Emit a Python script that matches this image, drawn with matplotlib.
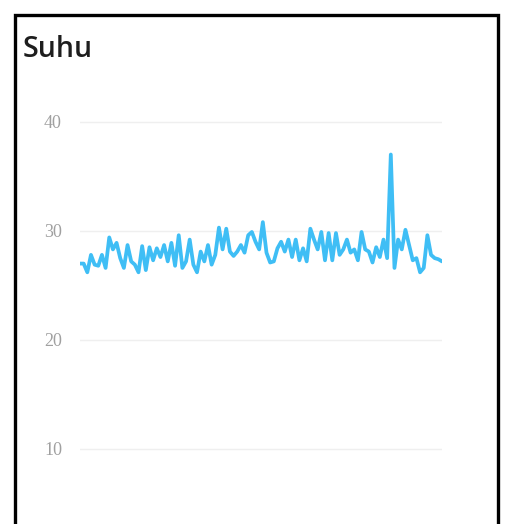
import matplotlib
matplotlib.use("Agg")
import matplotlib.pyplot as plt
from matplotlib.patches import Rectangle

title = "Suhu"
yticks = [10, 20, 30, 40]
suhu = [27.0, 27.0, 26.2, 27.8, 26.9, 26.8, 27.8, 26.6, 29.4, 28.3,
        28.9, 27.5, 26.6, 28.7, 27.2, 26.9, 26.2, 28.6, 26.4, 28.5,
        27.3, 28.4, 27.6, 28.7, 27.2, 28.9, 26.8, 29.6, 26.6, 27.2,
        29.2, 26.9, 26.2, 28.1, 27.2, 28.7, 26.9, 27.8, 30.3, 28.3,
        30.2, 28.1, 27.7, 28.1, 28.7, 28.0, 29.6, 29.9, 29.0, 28.3,
        30.8, 28.0, 27.1, 27.2, 28.4, 29.0, 28.1, 29.2, 27.6, 29.2,
        27.3, 28.4, 27.2, 30.2, 29.2, 28.3, 29.9, 27.3, 29.8, 27.3,
        29.8, 27.8, 28.3, 29.2, 28.0, 28.3, 27.3, 29.9, 28.3, 28.1,
        27.1, 28.5, 27.6, 29.2, 27.5, 37.0, 26.6, 29.2, 28.3, 30.1,
        28.7, 27.3, 27.5, 26.2, 26.6, 29.6, 27.8, 27.5, 27.4, 27.2]

W, H = 512, 524
fig = plt.figure(figsize=(W / 100, H / 100), dpi=100)
fig.patch.set_facecolor("white")

# card border
fig.add_artist(Rectangle((15 / W, -0.1), (498 - 15) / W, (H - 15) / H + 0.1,
                         transform=fig.transFigure, fill=False,
                         edgecolor="black", linewidth=2.4))

fig.text(23 / W, 1 - 57 / H, title, fontsize=20.5, family="Open Sans",
         fontweight="semibold", color="#1e1e1e", va="baseline", ha="left")

ax = fig.add_axes([80 / W, (H - 503.5) / H, (442 - 80) / W, (503.5 - 100) / H])
x = list(range(len(suhu)))
ax.plot(x, suhu, color="#3fbef5", linewidth=2.7, solid_joinstyle="round",
        solid_capstyle="round")
ax.set_xlim(0, len(suhu) - 1)
ax.set_ylim(5, 42)
ax.set_yticks(yticks)
ax.set_yticklabels([str(t) for t in yticks], family="Liberation Serif",
                   fontsize=13, color="#a0a0a0")
ax.tick_params(axis="y", length=0, pad=13)
ax.set_xticks([])
ax.grid(axis="y", color="#efefef", linewidth=1)
ax.set_axisbelow(True)
for s in ax.spines.values():
    s.set_visible(False)
ax.patch.set_alpha(0)

fig.savefig("out.png", dpi=100, facecolor="white")
